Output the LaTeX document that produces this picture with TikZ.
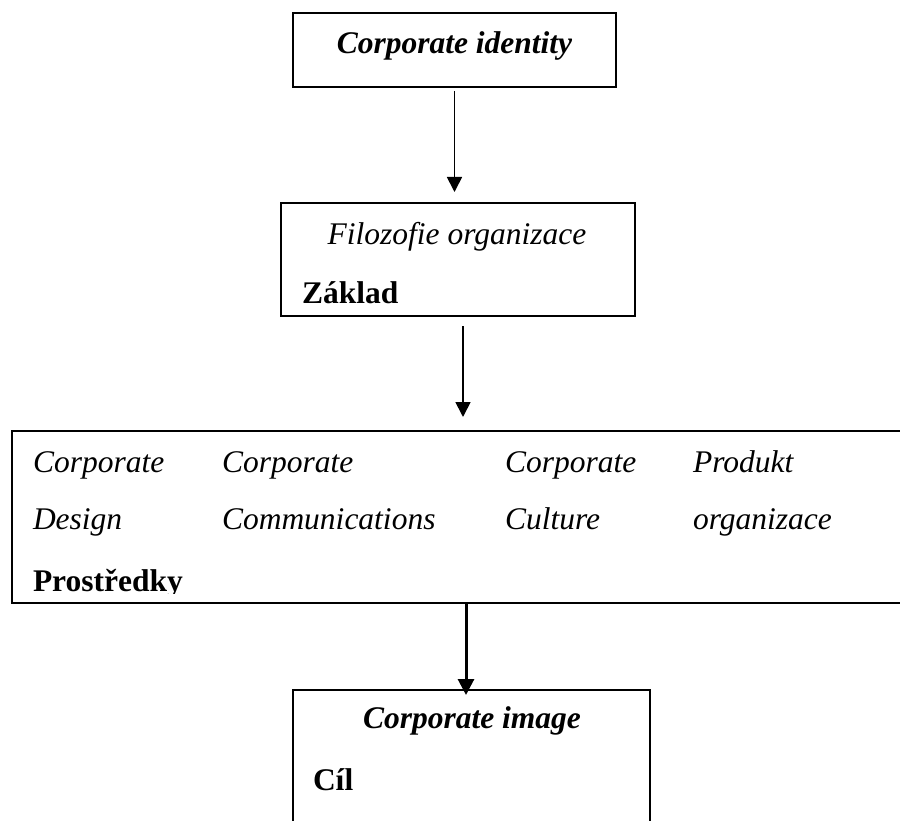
\documentclass[tikz,border=0pt]{standalone}
\usepackage{fontspec}
\setmainfont[Ligatures=NoCommon]{Liberation Serif}
\usetikzlibrary{arrows.meta}

\tikzset{
  frame/.style={draw=black, line width=1.8pt, rectangle, inner sep=0pt, outer sep=0pt, fill=none},
  txt/.style={inner sep=0pt, outer sep=0pt, font=\fontsize{31.5}{38}\selectfont},
  lbl/.style={txt, anchor=base west},
  ctr/.style={txt, anchor=base},
  arr/.style={-{Triangle[width=15pt,length=15pt]}, line width=1.8pt},
}

\begin{document}
\begin{tikzpicture}[x=1pt, y=-1pt]
  % page area
  \clip (0,0) rectangle (900,821);
  \fill[white] (0,0) rectangle (900,821);

  % boxes
  \node[frame, minimum width=323pt, minimum height=74pt]  (b1) at (454.5,50) {};
  \node[frame, minimum width=354pt, minimum height=113pt] (b2) at (458,259.5) {};
  \node[frame, minimum width=898pt, minimum height=172pt] (b3) at (461,517) {};
  \node[frame, minimum width=357pt, minimum height=140pt] (b4) at (471.5,760) {};
  \draw[line width=2.5pt] (b3.south west) -- (b3.south east);

  % texts
  \node[ctr] (t1) at (454.5,54) {\textbf{\textit{Corporate identity}}};
  \node[ctr] (t2) at (457,245) {\textit{Filozofie organizace}};
  \node[lbl] (t3) at (302,304) {\textbf{Základ}};

  \node[lbl] (c1a) at (33,472)  {\textit{Corporate}};
  \node[lbl] (c1b) at (33,529)  {\textit{Design}};
  \node[lbl] (c2a) at (222,472) {\textit{Corporate}};
  \node[lbl] (c2b) at (222,529) {\textit{Communications}};
  \node[lbl] (c3a) at (505,472) {\textit{Corporate}};
  \node[lbl] (c3b) at (505,529) {\textit{Culture}};
  \node[lbl] (c4a) at (693,472) {\textit{Produkt}};
  \node[lbl] (c4b) at (693,529) {\textit{organizace}};
  % the last line of the box is cut off just under its baseline
  \begin{scope}
    \clip (0,0) rectangle (900,593.5);
    \node[lbl] (t4) at (33,591) {\textbf{Prostředky}};
  \end{scope}

  \node[ctr] (t5) at (472,728) {\textbf{\textit{Corporate image}}};
  \node[lbl] (t6) at (313,790) {\textbf{Cíl}};

  % connectors
  \draw[arr, shorten <=4pt, shorten >=11pt]
    (b1.south) -- (b1.south |- b2.north);
  \draw[arr, shorten <=10pt, shorten >=14pt]
    ([xshift=5pt]b2.south) -- ([xshift=5pt]b2.south |- b3.north);
  \draw[arr, line width=3pt, -{Triangle[width=16pt,length=16pt]}, shorten >=-5pt]
    ([xshift=-5.5pt]b4.north |- b3.south) -- ([xshift=-5.5pt]b4.north);
\end{tikzpicture}
\end{document}
